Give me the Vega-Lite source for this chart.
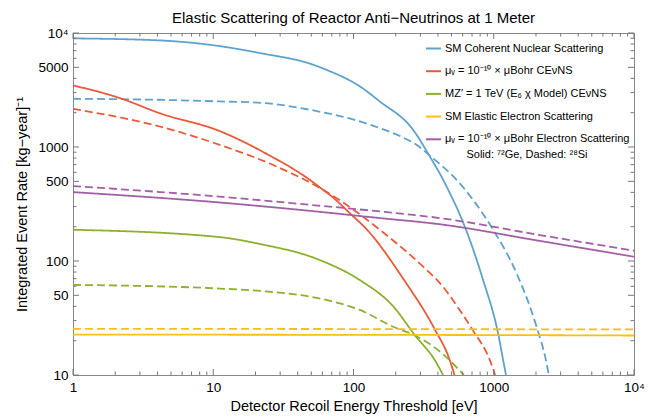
{
  "$schema": "https://vega.github.io/schema/vega-lite/v6.json",
  "width": 561,
  "height": 342,
  "autosize": {"type": "none"},
  "padding": {"left": 73, "top": 33, "right": 26, "bottom": 43},
  "background": "white",
  "title": {"text": "Elastic Scattering of Reactor Anti−Neutrinos at 1 Meter", "fontSize": 15, "fontWeight": "normal", "font": "Liberation Sans", "color": "black", "anchor": "middle", "frame": "group", "offset": 0},
  "config": {
    "font": "Liberation Sans",
    "view": {"stroke": "#888888", "strokeWidth": 1},
    "axis": {"domainColor": "#888888", "labelColor": "black", "titleColor": "black", "labelFont": "Liberation Sans", "titleFont": "Liberation Sans", "labelFontSize": 13.5, "titleFontSize": 14.5, "titleFontWeight": "normal", "labelOverlap": false, "labelFlush": false, "ticks": false, "grid": false}
  },
  "datasets": {
    "curves": [
      {"p": "coh", "t": "Ge", "E": 1, "R": 8970}, {"p": "coh", "t": "Ge", "E": 4.15, "R": 8610}, {"p": "coh", "t": "Ge", "E": 9.4, "R": 7890}, {"p": "coh", "t": "Ge", "E": 21.5, "R": 6670}, {"p": "coh", "t": "Ge", "E": 51.5, "R": 5270}, {"p": "coh", "t": "Ge", "E": 64, "R": 4760}, {"p": "coh", "t": "Ge", "E": 111, "R": 3400}, {"p": "coh", "t": "Ge", "E": 154, "R": 2510}, {"p": "coh", "t": "Ge", "E": 266, "R": 1416}, {"p": "coh", "t": "Ge", "E": 350, "R": 826}, {"p": "coh", "t": "Ge", "E": 436, "R": 515}, {"p": "coh", "t": "Ge", "E": 461, "R": 450}, {"p": "coh", "t": "Ge", "E": 622, "R": 200}, {"p": "coh", "t": "Ge", "E": 840, "R": 68}, {"p": "coh", "t": "Ge", "E": 1075, "R": 23}, {"p": "coh", "t": "Ge", "E": 1167, "R": 13.5}, {"p": "coh", "t": "Ge", "E": 1222, "R": 10},
      {"p": "coh", "t": "Si", "E": 1, "R": 2650}, {"p": "coh", "t": "Si", "E": 5, "R": 2580}, {"p": "coh", "t": "Si", "E": 11, "R": 2510}, {"p": "coh", "t": "Si", "E": 22, "R": 2440}, {"p": "coh", "t": "Si", "E": 49, "R": 2120}, {"p": "coh", "t": "Si", "E": 111, "R": 1675}, {"p": "coh", "t": "Si", "E": 154, "R": 1465}, {"p": "coh", "t": "Si", "E": 218, "R": 1236}, {"p": "coh", "t": "Si", "E": 281, "R": 1045}, {"p": "coh", "t": "Si", "E": 350, "R": 840}, {"p": "coh", "t": "Si", "E": 543, "R": 515}, {"p": "coh", "t": "Si", "E": 712, "R": 344}, {"p": "coh", "t": "Si", "E": 990, "R": 188}, {"p": "coh", "t": "Si", "E": 1455, "R": 78}, {"p": "coh", "t": "Si", "E": 2020, "R": 26.5}, {"p": "coh", "t": "Si", "E": 2355, "R": 13.5}, {"p": "coh", "t": "Si", "E": 2470, "R": 10},
      {"p": "mag", "t": "Ge", "E": 1, "R": 3470}, {"p": "mag", "t": "Ge", "E": 2.15, "R": 2690}, {"p": "mag", "t": "Ge", "E": 4.15, "R": 1980}, {"p": "mag", "t": "Ge", "E": 11.1, "R": 1380}, {"p": "mag", "t": "Ge", "E": 24, "R": 871}, {"p": "mag", "t": "Ge", "E": 48.8, "R": 515}, {"p": "mag", "t": "Ge", "E": 60.7, "R": 421}, {"p": "mag", "t": "Ge", "E": 71.6, "R": 360}, {"p": "mag", "t": "Ge", "E": 94, "R": 263}, {"p": "mag", "t": "Ge", "E": 124, "R": 190}, {"p": "mag", "t": "Ge", "E": 226, "R": 70}, {"p": "mag", "t": "Ge", "E": 380, "R": 25.1}, {"p": "mag", "t": "Ge", "E": 486, "R": 13.5}, {"p": "mag", "t": "Ge", "E": 525, "R": 10},
      {"p": "mag", "t": "Si", "E": 1, "R": 2160}, {"p": "mag", "t": "Si", "E": 4.15, "R": 1513}, {"p": "mag", "t": "Si", "E": 11.1, "R": 1045}, {"p": "mag", "t": "Si", "E": 28.2, "R": 675}, {"p": "mag", "t": "Si", "E": 60.7, "R": 421}, {"p": "mag", "t": "Si", "E": 163, "R": 178}, {"p": "mag", "t": "Si", "E": 332, "R": 83.5}, {"p": "mag", "t": "Si", "E": 413, "R": 64}, {"p": "mag", "t": "Si", "E": 573, "R": 37}, {"p": "mag", "t": "Si", "E": 713, "R": 24.5}, {"p": "mag", "t": "Si", "E": 938, "R": 13.5}, {"p": "mag", "t": "Si", "E": 1023, "R": 10},
      {"p": "zp", "t": "Ge", "E": 1, "R": 188}, {"p": "zp", "t": "Ge", "E": 11.1, "R": 162}, {"p": "zp", "t": "Ge", "E": 21.5, "R": 141}, {"p": "zp", "t": "Ge", "E": 57.5, "R": 102}, {"p": "zp", "t": "Ge", "E": 111, "R": 68}, {"p": "zp", "t": "Ge", "E": 192, "R": 40}, {"p": "zp", "t": "Ge", "E": 275, "R": 22.2}, {"p": "zp", "t": "Ge", "E": 380, "R": 13.5}, {"p": "zp", "t": "Ge", "E": 435, "R": 10},
      {"p": "zp", "t": "Si", "E": 1, "R": 61.7}, {"p": "zp", "t": "Si", "E": 11.1, "R": 57.3}, {"p": "zp", "t": "Si", "E": 21.5, "R": 54.7}, {"p": "zp", "t": "Si", "E": 64, "R": 45.5}, {"p": "zp", "t": "Si", "E": 111, "R": 37.2}, {"p": "zp", "t": "Si", "E": 192, "R": 26.5}, {"p": "zp", "t": "Si", "E": 275, "R": 22.2}, {"p": "zp", "t": "Si", "E": 436, "R": 15.2}, {"p": "zp", "t": "Si", "E": 612, "R": 10},
      {"p": "ee", "t": "Ge", "E": 1, "R": 22.6}, {"p": "ee", "t": "Ge", "E": 100, "R": 22.5}, {"p": "ee", "t": "Ge", "E": 1000, "R": 22.4}, {"p": "ee", "t": "Ge", "E": 10000, "R": 22.2},
      {"p": "ee", "t": "Si", "E": 1, "R": 25.4}, {"p": "ee", "t": "Si", "E": 100, "R": 25.3}, {"p": "ee", "t": "Si", "E": 1000, "R": 25.2}, {"p": "ee", "t": "Si", "E": 10000, "R": 25.1},
      {"p": "mage", "t": "Ge", "E": 1, "R": 402}, {"p": "mage", "t": "Ge", "E": 11.1, "R": 326}, {"p": "mage", "t": "Ge", "E": 41.4, "R": 281}, {"p": "mage", "t": "Ge", "E": 154, "R": 238}, {"p": "mage", "t": "Ge", "E": 413, "R": 210}, {"p": "mage", "t": "Ge", "E": 2130, "R": 150}, {"p": "mage", "t": "Ge", "E": 10000, "R": 109},
      {"p": "mage", "t": "Si", "E": 1, "R": 454}, {"p": "mage", "t": "Si", "E": 11.1, "R": 367}, {"p": "mage", "t": "Si", "E": 41.4, "R": 317}, {"p": "mage", "t": "Si", "E": 154, "R": 272}, {"p": "mage", "t": "Si", "E": 413, "R": 238}, {"p": "mage", "t": "Si", "E": 2130, "R": 169}, {"p": "mage", "t": "Si", "E": 10000, "R": 123}
    ],
    "xt": [
      {"E": 1, "m": 1}, {"E": 2, "m": 0}, {"E": 3, "m": 0}, {"E": 4, "m": 0}, {"E": 5, "m": 0}, {"E": 6, "m": 0}, {"E": 7, "m": 0}, {"E": 8, "m": 0}, {"E": 9, "m": 0},
      {"E": 10, "m": 1}, {"E": 20, "m": 0}, {"E": 30, "m": 0}, {"E": 40, "m": 0}, {"E": 50, "m": 0}, {"E": 60, "m": 0}, {"E": 70, "m": 0}, {"E": 80, "m": 0}, {"E": 90, "m": 0},
      {"E": 100, "m": 1}, {"E": 200, "m": 0}, {"E": 300, "m": 0}, {"E": 400, "m": 0}, {"E": 500, "m": 0}, {"E": 600, "m": 0}, {"E": 700, "m": 0}, {"E": 800, "m": 0}, {"E": 900, "m": 0},
      {"E": 1000, "m": 1}, {"E": 2000, "m": 0}, {"E": 3000, "m": 0}, {"E": 4000, "m": 0}, {"E": 5000, "m": 0}, {"E": 6000, "m": 0}, {"E": 7000, "m": 0}, {"E": 8000, "m": 0}, {"E": 9000, "m": 0},
      {"E": 10000, "m": 1}
    ],
    "yt": [
      {"R": 10, "m": 1}, {"R": 20, "m": 0}, {"R": 30, "m": 0}, {"R": 40, "m": 0}, {"R": 50, "m": 1}, {"R": 60, "m": 0}, {"R": 70, "m": 0}, {"R": 80, "m": 0}, {"R": 90, "m": 0},
      {"R": 100, "m": 1}, {"R": 200, "m": 0}, {"R": 300, "m": 0}, {"R": 400, "m": 0}, {"R": 500, "m": 1}, {"R": 600, "m": 0}, {"R": 700, "m": 0}, {"R": 800, "m": 0}, {"R": 900, "m": 0},
      {"R": 1000, "m": 1}, {"R": 2000, "m": 0}, {"R": 3000, "m": 0}, {"R": 4000, "m": 0}, {"R": 5000, "m": 1}, {"R": 6000, "m": 0}, {"R": 7000, "m": 0}, {"R": 8000, "m": 0}, {"R": 9000, "m": 0},
      {"R": 10000, "m": 1}
    ]
  },
  "layer": [
    {
      "data": {"name": "curves"},
      "mark": {"type": "line", "strokeWidth": 1.8, "interpolate": "monotone", "clip": true},
      "encoding": {
        "x": {"field": "E", "type": "quantitative", "title": "Detector Recoil Energy Threshold [eV]", "scale": {"type": "log", "domain": [1, 10000], "nice": false},
          "axis": {"orient": "bottom",
            "values": [1, 10, 100, 1000, 10000],
            "labelExpr": "datum.value == 10000 ? '10⁴' : toString(datum.value)",
            "labelPadding": 5, "titlePadding": 6}},
        "y": {"field": "R", "type": "quantitative", "title": "Integrated Event Rate [kg−year]⁻¹", "scale": {"type": "log", "domain": [10, 10000], "nice": false},
          "axis": {"orient": "left",
            "values": [10, 50, 100, 500, 1000, 5000, 10000],
            "labelExpr": "datum.value == 10000 ? '10⁴' : toString(datum.value)",
            "labelPadding": 5, "titlePadding": 8}},
        "color": {"field": "p", "type": "nominal",
          "scale": {"domain": ["coh", "mag", "zp", "ee", "mage"], "range": ["#5FA2CE", "#EA5A3A", "#8DB02F", "#FDBF11", "#A45EA6"]},
          "legend": {"orient": "none", "legendX": 352, "legendY": 7, "title": "Solid: ⁷²Ge, Dashed: ²⁸Si", "titleOrient": "bottom", "titleAnchor": "middle", "titleFontWeight": "normal", "titleFontSize": 11, "titleFont": "Liberation Sans", "titleColor": "black", "titlePadding": 5,
            "labelExpr": "datum.value == 'coh' ? 'SM Coherent Nuclear Scattering' : datum.value == 'mag' ? 'μᵥ = 10⁻¹⁰ × μBohr CEνNS' : datum.value == 'zp' ? 'MZ′ = 1 TeV (E₆ χ Model) CEνNS' : datum.value == 'ee' ? 'SM Elastic Electron Scattering' : 'μᵥ = 10⁻¹⁰ × μBohr Electron Scattering'",
            "labelFontSize": 11, "labelFont": "Liberation Sans", "labelColor": "black", "labelOffset": 3, "symbolType": "stroke", "symbolSize": 225, "symbolStrokeWidth": 2, "rowPadding": 8.7, "padding": 0, "labelLimit": 400}},
        "strokeDash": {"field": "t", "type": "nominal", "scale": {"domain": ["Ge", "Si"], "range": [[1, 0], [8, 4]]}, "legend": null}
      }
    },
    {
      "data": {"name": "xt"},
      "transform": [{"filter": "datum.m == 0"}],
      "mark": {"type": "tick", "orient": "vertical", "size": 3.5, "thickness": 1, "color": "#777777", "opacity": 1, "yOffset": -1.75},
      "encoding": {
        "x": {"field": "E", "type": "quantitative", "title": "Detector Recoil Energy Threshold [eV]", "scale": {"type": "log", "domain": [1, 10000], "nice": false}},
        "y": {"datum": 10, "type": "quantitative", "title": "Integrated Event Rate [kg−year]⁻¹", "scale": {"type": "log", "domain": [10, 10000], "nice": false}}
      }
    },
    {
      "data": {"name": "xt"},
      "transform": [{"filter": "datum.m == 1"}],
      "mark": {"type": "tick", "orient": "vertical", "size": 6, "thickness": 1, "color": "#777777", "opacity": 1, "yOffset": -3},
      "encoding": {
        "x": {"field": "E", "type": "quantitative", "title": "Detector Recoil Energy Threshold [eV]", "scale": {"type": "log", "domain": [1, 10000], "nice": false}},
        "y": {"datum": 10, "type": "quantitative", "title": "Integrated Event Rate [kg−year]⁻¹", "scale": {"type": "log", "domain": [10, 10000], "nice": false}}
      }
    },
    {
      "data": {"name": "xt"},
      "transform": [{"filter": "datum.m == 0"}],
      "mark": {"type": "tick", "orient": "vertical", "size": 3.5, "thickness": 1, "color": "#777777", "opacity": 1, "yOffset": 1.75},
      "encoding": {
        "x": {"field": "E", "type": "quantitative", "title": "Detector Recoil Energy Threshold [eV]", "scale": {"type": "log", "domain": [1, 10000], "nice": false}},
        "y": {"datum": 10000, "type": "quantitative", "title": "Integrated Event Rate [kg−year]⁻¹", "scale": {"type": "log", "domain": [10, 10000], "nice": false}}
      }
    },
    {
      "data": {"name": "xt"},
      "transform": [{"filter": "datum.m == 1"}],
      "mark": {"type": "tick", "orient": "vertical", "size": 6, "thickness": 1, "color": "#777777", "opacity": 1, "yOffset": 3},
      "encoding": {
        "x": {"field": "E", "type": "quantitative", "title": "Detector Recoil Energy Threshold [eV]", "scale": {"type": "log", "domain": [1, 10000], "nice": false}},
        "y": {"datum": 10000, "type": "quantitative", "title": "Integrated Event Rate [kg−year]⁻¹", "scale": {"type": "log", "domain": [10, 10000], "nice": false}}
      }
    },
    {
      "data": {"name": "yt"},
      "transform": [{"filter": "datum.m == 0"}],
      "mark": {"type": "tick", "orient": "horizontal", "size": 3.5, "thickness": 1, "color": "#777777", "opacity": 1, "xOffset": 1.75},
      "encoding": {
        "y": {"field": "R", "type": "quantitative", "title": "Integrated Event Rate [kg−year]⁻¹", "scale": {"type": "log", "domain": [10, 10000], "nice": false}},
        "x": {"datum": 1, "type": "quantitative", "title": "Detector Recoil Energy Threshold [eV]", "scale": {"type": "log", "domain": [1, 10000], "nice": false}}
      }
    },
    {
      "data": {"name": "yt"},
      "transform": [{"filter": "datum.m == 1"}],
      "mark": {"type": "tick", "orient": "horizontal", "size": 6, "thickness": 1, "color": "#777777", "opacity": 1, "xOffset": 3},
      "encoding": {
        "y": {"field": "R", "type": "quantitative", "title": "Integrated Event Rate [kg−year]⁻¹", "scale": {"type": "log", "domain": [10, 10000], "nice": false}},
        "x": {"datum": 1, "type": "quantitative", "title": "Detector Recoil Energy Threshold [eV]", "scale": {"type": "log", "domain": [1, 10000], "nice": false}}
      }
    },
    {
      "data": {"name": "yt"},
      "transform": [{"filter": "datum.m == 0"}],
      "mark": {"type": "tick", "orient": "horizontal", "size": 3.5, "thickness": 1, "color": "#777777", "opacity": 1, "xOffset": -1.75},
      "encoding": {
        "y": {"field": "R", "type": "quantitative", "title": "Integrated Event Rate [kg−year]⁻¹", "scale": {"type": "log", "domain": [10, 10000], "nice": false}},
        "x": {"datum": 10000, "type": "quantitative", "title": "Detector Recoil Energy Threshold [eV]", "scale": {"type": "log", "domain": [1, 10000], "nice": false}}
      }
    },
    {
      "data": {"name": "yt"},
      "transform": [{"filter": "datum.m == 1"}],
      "mark": {"type": "tick", "orient": "horizontal", "size": 6, "thickness": 1, "color": "#777777", "opacity": 1, "xOffset": -3},
      "encoding": {
        "y": {"field": "R", "type": "quantitative", "title": "Integrated Event Rate [kg−year]⁻¹", "scale": {"type": "log", "domain": [10, 10000], "nice": false}},
        "x": {"datum": 10000, "type": "quantitative", "title": "Detector Recoil Energy Threshold [eV]", "scale": {"type": "log", "domain": [1, 10000], "nice": false}}
      }
    }
  ]
}
